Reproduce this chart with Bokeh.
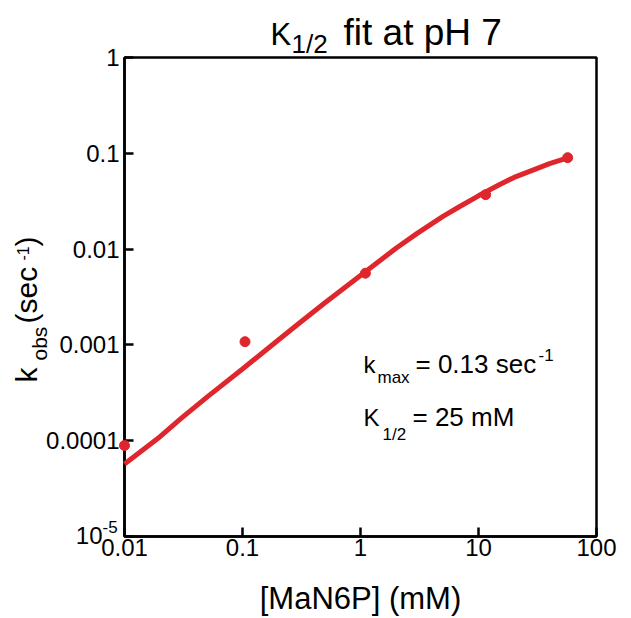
import math
from bokeh.plotting import figure
from bokeh.models import FixedTicker, CustomJSTickFormatter, Range1d
from bokeh.core.properties import value
from bokeh.embed import file_html
from bokeh.resources import INLINE

# measured data points
conc_mM = [0.01, 0.105, 1.1, 11.5, 57]
kobs = [8.9e-5, 0.00108, 0.0056, 0.037, 0.090]

# fitted curve, points
fit_x = [0.01, 0.02, 0.03, 0.05, 0.1, 0.2, 0.3, 0.5, 1, 2, 3, 5, 7, 10, 15, 20, 30, 40, 56]
fit_y = [5.7e-5, 1.1e-4, 1.7e-4, 2.85e-4, 5.6e-4, 1.12e-3, 1.67e-3, 2.75e-3, 5.3e-3,
         1.02e-2, 1.45e-2, 2.2e-2, 2.8e-2, 3.6e-2, 4.7e-2, 5.6e-2, 6.8e-2, 7.8e-2, 8.9e-2]

x_ticks = [0.01, 0.1, 1, 10, 100]
x_tick_labels = ["0.01", "0.1", "1", "10", "100"]
y_ticks = [1e-5, 1e-4, 1e-3, 1e-2, 1e-1, 1]
y_tick_labels = ["", "0.0001", "0.001", "0.01", "0.1", "1"]

RED = "#e0262d"
FONT = "Liberation Sans"

p = figure(width=631, height=618, x_axis_type="log", y_axis_type="log",
           x_range=Range1d(0.01, 100), y_range=Range1d(1e-5, 1),
           output_backend="svg", toolbar_location=None,
           min_border_left=124, min_border_right=35,
           min_border_top=57, min_border_bottom=82)
p.background_fill_color = "white"
p.border_fill_color = "white"
p.grid.visible = False
p.outline_line_color = "black"
p.outline_line_width = 2.5

p.line(fit_x, fit_y, line_color=RED, line_width=5, level="overlay")
p.scatter(conc_mM, kobs, size=10, fill_color=RED, line_color=RED, level="overlay")

fmt_code = """
const t = vals.map(v => Math.abs(Math.log10(v) - Math.log10(tick)));
const j = t.indexOf(Math.min(...t));
return labs[j];
"""
p.xaxis.ticker = FixedTicker(ticks=x_ticks)
p.xaxis.formatter = CustomJSTickFormatter(args=dict(vals=x_ticks, labs=x_tick_labels), code=fmt_code)
p.yaxis.ticker = FixedTicker(ticks=y_ticks)
p.yaxis.formatter = CustomJSTickFormatter(args=dict(vals=y_ticks, labs=y_tick_labels), code=fmt_code)

for ax in (p.xaxis[0], p.yaxis[0]):
    ax.axis_line_width = 2.5
    ax.axis_line_color = "black"
    ax.major_tick_in = 9
    ax.major_tick_out = 0
    ax.major_tick_line_width = 2.5
    ax.minor_tick_line_color = None
    ax.major_label_text_font = FONT
    ax.major_label_text_font_size = "24px"
    ax.major_label_text_color = "black"

p.xaxis.major_label_standoff = 2
p.yaxis.major_label_standoff = 5
p.xaxis.axis_label = "[MaN6P] (mM)"
p.xaxis.axis_label_text_font = FONT
p.xaxis.axis_label_text_font_size = "31px"
p.xaxis.axis_label_text_font_style = "normal"
p.xaxis.axis_label_text_color = "black"
p.xaxis.axis_label_standoff = 22

# text glyphs anchored at the frame's bottom-left corner (0.01, 1e-5);
# dx right, dy up, in pixels
def lab(text, dx, dy, size, angle=0.0, align="left"):
    shift = round(0.34 * size)  # correction for the rendered baseline position
    if angle:
        dx -= shift
    else:
        dy += shift
    p.text(x=[x_ticks[0]], y=[y_ticks[0]], text=[text], x_offset=dx, y_offset=-dy,
           text_font=value(FONT), text_font_size=value(f"{size}px"), text_color="black",
           angle=angle, text_align=align, text_baseline="alphabetic",
           level="overlay")

# 10^-5 tick label
lab("10", -22, -7, 24, align="right")
lab("-5", -22, 4, 17)

# title
lab("K", 146, 491, 31)
lab("1/2", 167, 484, 26)
lab("fit at pH 7", 219, 491, 37)

# y axis label (rotated)
A = math.pi / 2
lab("k", -88, 154, 30, angle=A)
lab("obs", -78, 176, 21, angle=A)
lab("(sec", -88, 213, 30, angle=A)
lab("-1", -97, 276, 16, angle=A)
lab(")", -88, 290, 30, angle=A)

# annotations
lab("k", 239, 164, 24)
lab("max", 253, 153, 17)
lab("= 0.13 sec", 291, 164, 26)
lab("-1", 414, 176, 17)
lab("K", 239, 111, 24)
lab("1/2", 258, 96, 17)
lab("= 25 mM", 288, 111, 26)

open("out.html", "w").write(file_html(p, INLINE))
